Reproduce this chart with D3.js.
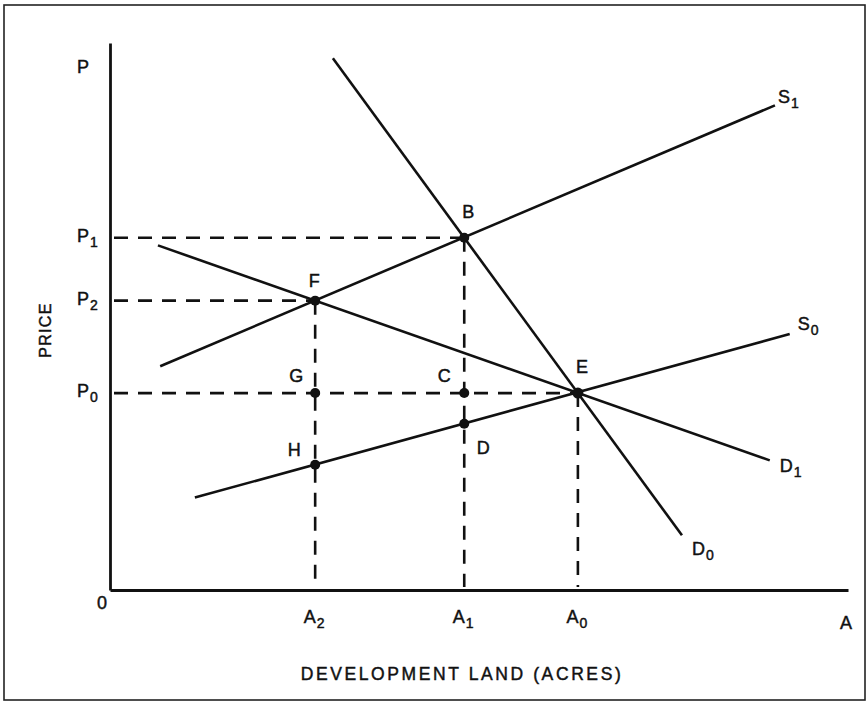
<!DOCTYPE html>
<html>
<head>
<meta charset="utf-8">
<script src="https://cdn.jsdelivr.net/npm/d3@7"></script>
<style>
  html, body { margin: 0; padding: 0; background: #fff; }
  svg { display: block; }
  text { font-family: "Liberation Sans", Arial, Helvetica, sans-serif; fill: #111; stroke: #111; stroke-width: 0.45px; }
</style>
</head>
<body>
<div id="chart"></div>
<script>
// ---------------- data (conceptual units 0..100 on both axes) ----------------
const curveNames   = ["D", "D", "S", "S"];
const curveSubs    = ["0", "1", "1", "0"];
const curveStartA  = [30.2, 6.5, 6.8, 11.5];
const curveStartP  = [97.2, 63.0, 40.9, 16.9];
const curveEndA    = [77.5, 89.4, 90.1, 92.1];
const curveEndP    = [10.0, 23.7, 88.6, 46.8];

const pointNames = ["B", "F", "E", "G", "C", "D", "H"];
const pointA     = [48.0, 27.8, 63.4, 27.8, 48.0, 48.0, 27.8];
const pointP     = [64.4, 52.9, 36.0, 36.0, 36.0, 30.4, 22.9];

const priceTickNames = ["P", "P", "P"];
const priceTickSubs  = ["1", "2", "0"];
const priceTickVals  = [64.4, 52.9, 36.0];

const acreTickNames = ["A", "A", "A"];
const acreTickSubs  = ["2", "1", "0"];
const acreTickVals  = [27.8, 48.0, 63.4];

// dashed guides: price level runs from axis to point; acre level runs from point to axis
const guidePoint = ["B", "F", "E"];

const xTitle = "DEVELOPMENT LAND (ACRES)";
const yTitle = "PRICE";

// ---------------- drawing ----------------
const W = 868, H = 705;
const svg = d3.select("#chart").append("svg").attr("width", W).attr("height", H);

// frame
svg.append("rect").attr("x", 4).attr("y", 5).attr("width", 861).attr("height", 695)
  .attr("fill", "none").attr("stroke", "#222").attr("stroke-width", 1.6);

const x = d3.scaleLinear().domain([0, 100]).range([110, 848]);
const y = d3.scaleLinear().domain([0, 100]).range([590, 43]);

const ink = "#111";

// axes (plain lines)
const gx = svg.append("g").attr("transform", `translate(0,${y(0)})`)
  .call(d3.axisBottom(x).tickValues([]).tickSizeOuter(0));
const gy = svg.append("g").attr("transform", `translate(${x(0)},0)`)
  .call(d3.axisLeft(y).tickValues([]).tickSizeOuter(0));
[gx, gy].forEach(g => g.select(".domain").attr("stroke", ink).attr("stroke-width", 2.8));

// dashed guides
const dash = "14,10";
const guides = svg.append("g").attr("stroke", ink).attr("stroke-width", 2.6)
  .attr("stroke-dasharray", dash).attr("fill", "none");
guidePoint.forEach(name => {
  const i = pointNames.indexOf(name);
  guides.append("line")
    .attr("x1", x(0) + 4).attr("y1", y(pointP[i]))
    .attr("x2", x(pointA[i])).attr("y2", y(pointP[i]));
  guides.append("line")
    .attr("x1", x(pointA[i])).attr("y1", y(pointP[i]))
    .attr("x2", x(pointA[i])).attr("y2", y(0) - 3);
});

// curves
const line = d3.line().x(d => x(d[0])).y(d => y(d[1]));
const curves = svg.append("g");
curveNames.forEach((n, i) => {
  curves.append("path")
    .attr("d", line([[curveStartA[i], curveStartP[i]], [curveEndA[i], curveEndP[i]]]))
    .attr("fill", "none").attr("stroke", ink).attr("stroke-width", 2.6)
    .attr("stroke-linecap", "butt");
});

// curve labels
const curveLabelOff = [[10, 20], [10, 12], [3, -2], [8, -4]];
const mainSize = 18, subSize = 14;
function subText(g, xPos, yPos, main, sub, anchor) {
  const t = g.append("text").attr("x", xPos).attr("y", yPos)
    .attr("text-anchor", anchor).attr("font-size", mainSize);
  t.append("tspan").text(main);
  t.append("tspan").attr("dy", 5).attr("dx", 1).attr("font-size", subSize).text(sub);
  return t;
}
const labels = svg.append("g");
curveNames.forEach((n, i) => {
  subText(labels, x(curveEndA[i]) + curveLabelOff[i][0], y(curveEndP[i]) + curveLabelOff[i][1],
    n, curveSubs[i], "start");
});

// points
svg.append("g").selectAll("circle").data(pointNames).join("circle")
  .attr("cx", (d, i) => x(pointA[i])).attr("cy", (d, i) => y(pointP[i]))
  .attr("r", (d) => d === "E" ? 5.5 : 5).attr("fill", ink);

const pointLabelOff = {B: [4, -20], F: [-1, -14], E: [4, -20], G: [-19, -11], C: [-20, -11], D: [19, 30], H: [-21, -9]};
pointNames.forEach((n, i) => {
  labels.append("text").attr("x", x(pointA[i]) + pointLabelOff[n][0])
    .attr("y", y(pointP[i]) + pointLabelOff[n][1])
    .attr("text-anchor", "middle").attr("font-size", mainSize).text(n);
});

// axis tick labels
priceTickNames.forEach((n, i) => {
  subText(labels, 77, y(priceTickVals[i]) + 4, n, priceTickSubs[i], "start");
});
acreTickNames.forEach((n, i) => {
  subText(labels, x(acreTickVals[i]) - 1, y(0) + 33, n, acreTickSubs[i], "middle");
});
labels.append("text").attr("x", x(0) - 27).attr("y", y(100) + 30)
  .attr("text-anchor", "middle").attr("font-size", mainSize).text("P");
labels.append("text").attr("x", x(0) - 8).attr("y", y(0) + 19)
  .attr("text-anchor", "middle").attr("font-size", mainSize).text("0");
labels.append("text").attr("x", x(100) - 2).attr("y", y(0) + 39)
  .attr("text-anchor", "middle").attr("font-size", mainSize).text("A");

// titles
labels.append("text").attr("x", 462).attr("y", 680).attr("text-anchor", "middle")
  .attr("font-size", 17.5).attr("letter-spacing", 2.6).text(xTitle);
labels.append("text").attr("transform", "translate(51,330) rotate(-90)")
  .attr("text-anchor", "middle").attr("font-size", 16).attr("letter-spacing", 1.3).text(yTitle);
</script>
</body>
</html>
